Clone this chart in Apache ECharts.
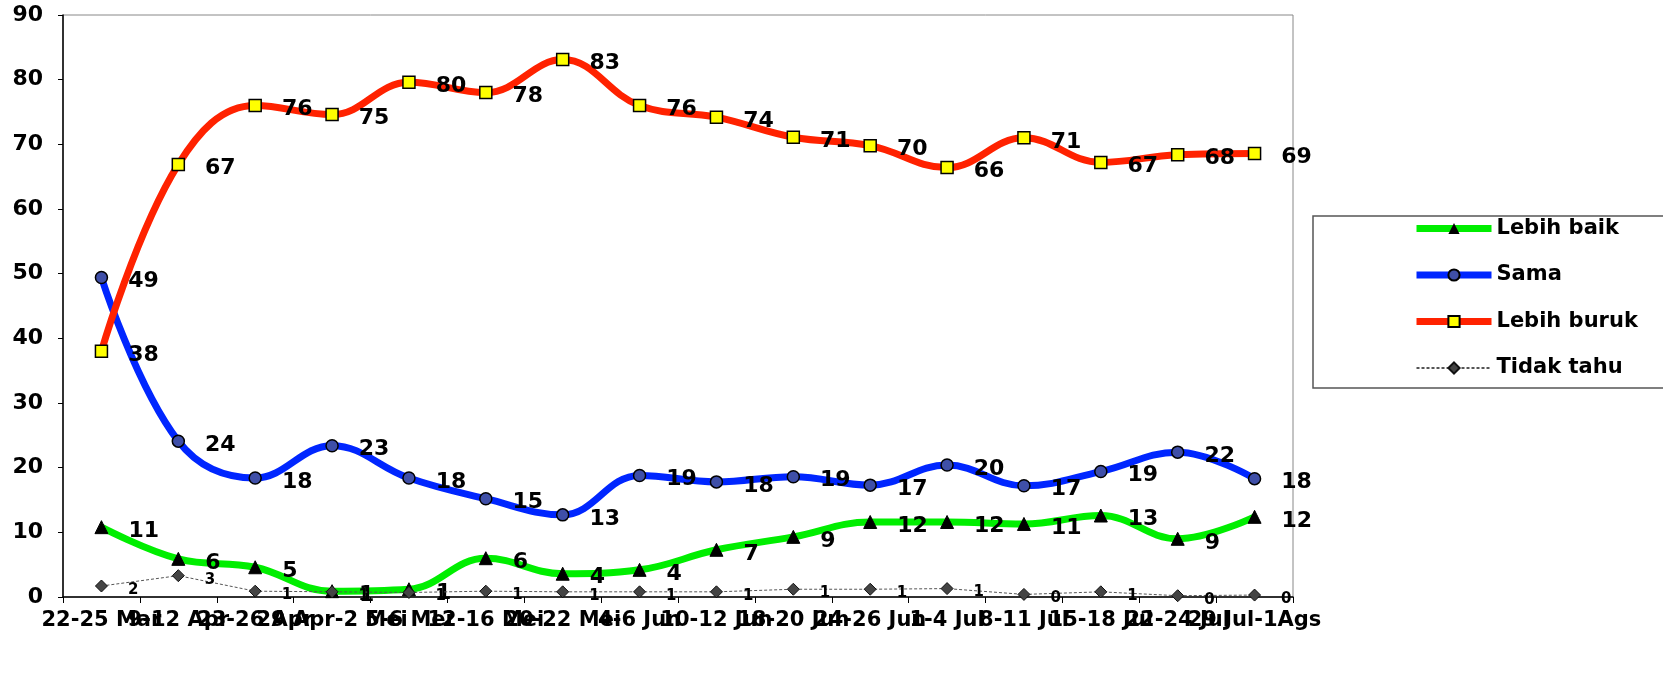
<!DOCTYPE html>
<html>
<head>
<meta charset="utf-8">
<script src="https://cdn.jsdelivr.net/npm/echarts@6/dist/echarts.min.js"></script>
<style>html,body{margin:0;padding:0;background:#fff;}#c{width:1663px;height:674px;}</style>
</head>
<body>
<div id="c"></div>
<script>
var categories = ["22-25 Mar","9-12 Apr","23-26 Apr","29 Apr-2 Mei","5-6 Mei","12-16 Mei","20-22 Mei","4-6 Jun","10-12 Jun","18-20 Jun","24-26 Jun","1-4 Jul","8-11 Jul","15-18 Jul","22-24 Jul","29 Jul-1Ags"];
var lebihBaik  = [10.8, 5.9, 4.6, 0.9, 1.2, 6.0, 3.6, 4.2, 7.3, 9.3, 11.6, 11.6, 11.3, 12.6, 9.0, 12.4];
var sama       = [49.4, 24.1, 18.4, 23.4, 18.4, 15.2, 12.7, 18.8, 17.8, 18.6, 17.3, 20.4, 17.2, 19.4, 22.4, 18.3];
var lebihBuruk = [38.0, 66.9, 76.0, 74.6, 79.6, 78.0, 83.1, 76.0, 74.2, 71.1, 69.8, 66.4, 71.0, 67.2, 68.4, 68.6];
var tidakTahu  = [1.7, 3.3, 0.9, 0.8, 0.7, 0.9, 0.8, 0.8, 0.8, 1.2, 1.2, 1.3, 0.4, 0.8, 0.2, 0.3];
var yTicks = [0,10,20,30,40,50,60,70,80,90];

var FONT = "DejaVu Sans";
function lbl(size, dist){
  return {show:true, position:'right', distance:dist, offset:[0,4], color:'#000', fontFamily:FONT, fontWeight:'bold', fontSize:size,
    formatter:function(p){return Math.round(p.value);}};
}
var chart = echarts.init(document.getElementById('c'));
chart.setOption({
  backgroundColor:'#fff',
  animation:false,
  grid:{left:63, right:370, top:15, bottom:77, show:true, borderColor:'#888', borderWidth:1},
  xAxis:{type:'category', data:categories, boundaryGap:true,
    axisLine:{lineStyle:{color:'#000', width:1.5}},
    axisTick:{show:true, length:6, lineStyle:{color:'#000'}},
    axisLabel:{interval:0, margin:13, color:'#000', fontFamily:FONT, fontWeight:'bold', fontSize:21}},
  yAxis:{type:'value', min:yTicks[0], max:yTicks[yTicks.length-1], interval:10,
    splitLine:{show:false},
    axisLine:{show:true, lineStyle:{color:'#000', width:1.5}},
    axisTick:{show:true, length:5, lineStyle:{color:'#000'}},
    axisLabel:{margin:20, color:'#000', fontFamily:FONT, fontWeight:'bold', fontSize:22}},
  legend:{orient:'vertical', left:1408, top:213, itemGap:25.5, itemWidth:75, itemHeight:14,
    textStyle:{color:'#000', fontFamily:FONT, fontWeight:'bold', fontSize:21},
    data:[
      {name:'Lebih baik', lineStyle:{width:7}},
      {name:'Sama', lineStyle:{width:7}},
      {name:'Lebih buruk', lineStyle:{width:7}},
      {name:'Tidak tahu'}]},
  graphic:[{type:'rect', shape:{x:1313, y:216, width:400, height:172}, style:{fill:'none', stroke:'#555', lineWidth:1.5}, z:-1}],
  series:[
    {name:'Lebih baik', type:'line', data:lebihBaik, smooth:0.4, symbol:'triangle', symbolSize:13,
      lineStyle:{color:'#00ee00', width:7}, itemStyle:{color:'#000', borderColor:'#000'}, label:lbl(22,20), z:3},
    {name:'Sama', type:'line', data:sama, smooth:0.4, symbol:'circle', symbolSize:12,
      lineStyle:{color:'#0026ff', width:7}, itemStyle:{color:'#3f4fa8', borderColor:'#000', borderWidth:1.5}, label:lbl(22,20), z:3},
    {name:'Lebih buruk', type:'line', data:lebihBuruk, smooth:0.4, symbol:'rect', symbolSize:12,
      lineStyle:{color:'#ff2200', width:7}, itemStyle:{color:'#ffff00', borderColor:'#000', borderWidth:1.5}, label:lbl(22,20), z:3},
    {name:'Tidak tahu', type:'line', data:tidakTahu, smooth:false, symbol:'diamond', symbolSize:12,
      lineStyle:{color:'#555', width:1, type:[3,2]}, itemStyle:{color:'#444', borderColor:'#111', borderWidth:1}, label:lbl(15,20), z:4}
  ]
});
</script>
</body>
</html>
